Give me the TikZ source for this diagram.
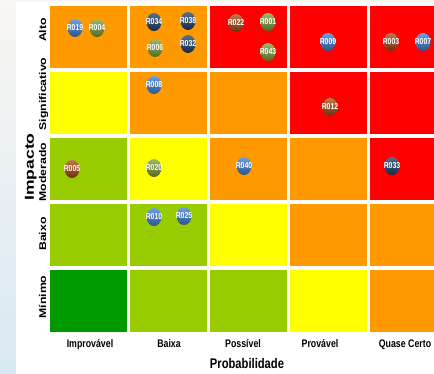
\documentclass[tikz,border=0pt]{standalone}
\usepackage{fontspec}
\setmainfont{Liberation Sans}
\newfontfamily\narrowfont[FakeStretch=0.80]{Liberation Sans}
\newfontfamily\widefont[FakeStretch=1.25]{Liberation Sans}
\newfontfamily\axisfont[FakeStretch=1.35]{Liberation Sans}
\usetikzlibrary{shapes.geometric}

\definecolor{cOrange}{HTML}{FF9900}
\definecolor{cRed}{HTML}{FF0000}
\definecolor{cYellow}{HTML}{FFFF00}
\definecolor{cLime}{HTML}{99CC00}
\definecolor{cGreen}{HTML}{009900}
\definecolor{bBlue}{HTML}{3F80D6}
\definecolor{bOlive}{HTML}{7FA03A}
\definecolor{bNavy}{HTML}{1E3F6C}
\definecolor{bBrown}{HTML}{A84A14}
\definecolor{stripTop}{HTML}{F8F6F2}
\definecolor{stripBot}{HTML}{D9E8F2}

\tikzset{
  bubtxt/.style={text=white,font=\narrowfont\bfseries\fontsize{8.6}{9}\selectfont,inner sep=0pt},
  bubble/.style 2 args={ellipse,minimum width=15pt,minimum height=18pt,inner sep=0pt,
    top color=#1!75!white,middle color=#1,bottom color=#1!65!black,
    label={[bubtxt]center:#2}},
  collabel/.style={anchor=base,font=\narrowfont\bfseries\fontsize{11}{13}\selectfont},
  rowlabel/.style={anchor=base,rotate=90,font=\widefont\bfseries\fontsize{9.8}{11}\selectfont}
}

\begin{document}
\begin{tikzpicture}[x=1pt,y=1pt]

\useasboundingbox (0,0) rectangle (434,-373);
\clip (0,0) rectangle (434,-373);

\shade[top color=stripTop,bottom color=stripBot] (0,0) rectangle (16,-373);
\fill[stripTop] (16,0) rectangle (434,-2);
\fill[white] (16,-2) rectangle (434,-373);

% matriz
\foreach \c [count=\i] in {cOrange,cOrange,cRed,cRed,cRed}
  \fill[\c] ({50+(\i-1)*80},-6) rectangle ++(77,-62);
\foreach \c [count=\i] in {cYellow,cOrange,cOrange,cRed,cRed}
  \fill[\c] ({50+(\i-1)*80},-72) rectangle ++(77,-62);
\foreach \c [count=\i] in {cLime,cYellow,cOrange,cOrange,cRed}
  \fill[\c] ({50+(\i-1)*80},-138) rectangle ++(77,-62);
\foreach \c [count=\i] in {cLime,cLime,cYellow,cOrange,cOrange}
  \fill[\c] ({50+(\i-1)*80},-204) rectangle ++(77,-62);
\foreach \c [count=\i] in {cGreen,cLime,cLime,cYellow,cOrange}
  \fill[\c] ({50+(\i-1)*80},-270) rectangle ++(77,-62);

% riscos
\node[bubble={bBlue}{R019}]  (r019) at (75,-28) {};
\node[bubble={bOlive}{R004}] (r004) at (97,-28) {};
\node[bubble={bNavy}{R034}]  (r034) at (154,-22) {};
\node[bubble={bNavy}{R038}]  (r038) at (188,-21) {};
\node[bubble={bOlive}{R006}] (r006) at (155,-48) {};
\node[bubble={bNavy}{R032}]  (r032) at (188,-44) {};
\node[bubble={bBrown}{R022}] (r022) at (236,-23) {};
\node[bubble={bOlive}{R001}] (r001) at (268,-22) {};
\node[bubble={bOlive}{R043}] (r043) at (268,-52) {};
\node[bubble={bBlue}{R009}]  (r009) at (328,-42) {};
\node[bubble={bBrown}{R003}] (r003) at (391,-42) {};
\node[bubble={bBlue}{R007}]  (r007) at (423,-42) {};
\node[bubble={bBlue}{R008}]  (r008) at (154,-85) {};
\node[bubble={bBrown}{R012}] (r012) at (330,-107) {};
\node[bubble={bBrown}{R005}] (r005) at (72,-169) {};
\node[bubble={bOlive}{R020}] (r020) at (154,-168) {};
\node[bubble={bBlue}{R040}]  (r040) at (244,-166) {};
\node[bubble={bNavy}{R033}]  (r033) at (392,-166) {};
\node[bubble={bBlue}{R010}]  (r010) at (154,-217) {};
\node[bubble={bBlue}{R025}]  (r025) at (184,-216) {};

% eixos
\node[rowlabel] (alto) at (46,-30) {Alto};
\node[rowlabel] (signif) at (46,-94) {Significativo};
\node[rowlabel] (moder) at (46,-172) {Moderado};
\node[rowlabel] (baixoI) at (46,-234) {Baixo};
\node[rowlabel] (minimo) at (46,-297) {Mínimo};
\node[anchor=base,rotate=90,font=\axisfont\bfseries\fontsize{13}{15}\selectfont] (impacto) at (34,-167) {Impacto};

\node[collabel] (improv) at (90,-347) {Improvável};
\node[collabel] (baixa) at (169,-347) {Baixa};
\node[collabel] (possivel) at (243,-347) {Possível};
\node[collabel] (provavel) at (320,-347) {Provável};
\node[collabel] (quase) at (405,-347) {Quase Certo};
\node[anchor=base,font=\narrowfont\bfseries\fontsize{14}{16}\selectfont] (prob) at (247,-368) {Probabilidade};

\end{tikzpicture}
\end{document}
